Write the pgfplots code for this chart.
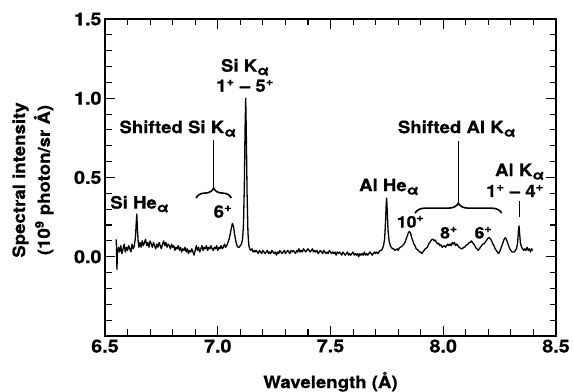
\documentclass[border=0pt]{standalone}
\usepackage{fontspec}
\setmainfont{TeX Gyre Heros}[FakeStretch=1.1, BoldFeatures={FakeBold=0.6}]
\usepackage{pgfplots}
\pgfplotsset{compat=1.18}
\usetikzlibrary{decorations.pathreplacing}
\newcommand{\al}{\raisebox{-0.4ex}{\fontsize{14}{14}\selectfont α}}
\newcommand{\ann}{\fontsize{17}{17}\selectfont\bfseries}
\newcommand{\sm}{\fontsize{16}{16}\selectfont\bfseries}
\begin{document}
\begin{tikzpicture}
\useasboundingbox (-105bp,-56bp) rectangle (468bp,336bp);
\begin{axis}[at={(0,0)}, anchor=south west, scale only axis,
  width=451bp, height=317bp,
  xmin=6.5, xmax=8.5, ymin=-0.5, ymax=1.5,
  xtick={6.5,7,7.5,8,8.5}, xticklabels={6.5,7.0,7.5,8.0,8.5},
  ytick={-0.5,0,0.5,1,1.5}, yticklabels={,0.0,0.5,1.0,1.5},
  minor x tick num=4, minor y tick num=4,
  tick align=inside, major tick length=10bp, minor tick length=6.5bp,
  axis line style={line width=1.3bp},
  every tick/.style={line width=1.1bp, black},
  tick label style={font=\fontsize{18}{18}\selectfont\bfseries},
  /pgf/number format/assume math mode=true,
  clip=false]
\addplot[black, line width=1.3bp, line join=round] table {
6.550 0.11
6.553 -0.08
6.555 0.02
6.560 0.06
6.565 0.03
6.570 0.07
6.575 0.02
6.580 0.05
6.585 0.08
6.590 0.03
6.595 0.06
6.600 0.04
6.605 0.07
6.610 0.05
6.615 0.03
6.620 0.08
6.625 0.05
6.630 0.07
6.635 0.12
6.638 0.20
6.641 0.27
6.644 0.17
6.647 0.10
6.650 0.06
6.655 0.09
6.660 0.06
6.665 0.10
6.670 0.07
6.675 0.09
6.680 0.11
6.685 0.07
6.690 0.09
6.695 0.06
6.700 0.10
6.705 0.08
6.710 0.06
6.715 0.09
6.720 0.07
6.725 0.05
6.730 0.08
6.735 0.06
6.740 0.09
6.745 0.07
6.750 0.05
6.755 0.08
6.760 0.10
6.765 0.07
6.770 0.09
6.775 0.06
6.780 0.08
6.785 0.07
6.790 0.05
6.795 0.08
6.800 0.06
6.805 0.07
6.810 0.04
6.815 0.06
6.820 0.05
6.825 0.07
6.830 0.04
6.835 0.06
6.840 0.03
6.845 0.05
6.850 0.04
6.855 0.06
6.860 0.03
6.865 0.05
6.870 0.02
6.875 0.04
6.880 0.03
6.885 0.05
6.890 0.03
6.895 0.01
6.900 0.04
6.905 0.07
6.910 0.04
6.915 0.06
6.920 0.03
6.925 0.05
6.930 0.07
6.935 0.04
6.940 0.06
6.945 0.05
6.950 0.07
6.955 0.04
6.960 0.06
6.965 0.05
6.970 0.07
6.975 0.05
6.980 0.04
6.985 0.06
6.990 0.05
6.995 0.07
7.000 0.04
7.005 0.06
7.010 0.05
7.015 0.07
7.020 0.05
7.025 0.06
7.030 0.08
7.035 0.06
7.040 0.07
7.045 0.09
7.050 0.11
7.055 0.14
7.060 0.18
7.065 0.21
7.070 0.19
7.075 0.14
7.080 0.10
7.085 0.07
7.090 0.06
7.095 0.06
7.100 0.07
7.105 0.08
7.110 0.11
7.114 0.20
7.118 0.45
7.121 0.80
7.124 1.00
7.127 0.75
7.130 0.40
7.134 0.15
7.138 0.07
7.142 0.05
7.147 0.04
7.152 0.05
7.157 0.03
7.162 0.04
7.165 0.03
7.170 0.04
7.175 0.03
7.180 0.02
7.185 0.04
7.190 0.03
7.195 0.02
7.200 0.04
7.205 0.03
7.210 0.02
7.215 0.03
7.220 0.04
7.225 0.02
7.230 0.03
7.235 0.02
7.240 0.04
7.245 0.03
7.250 0.02
7.255 0.03
7.260 0.01
7.265 0.03
7.270 0.02
7.275 0.04
7.280 0.03
7.285 0.02
7.290 0.03
7.295 0.04
7.300 0.02
7.305 0.03
7.310 0.04
7.315 0.03
7.320 0.02
7.325 0.04
7.330 0.03
7.335 0.04
7.340 0.03
7.345 0.02
7.350 0.04
7.355 0.03
7.360 0.05
7.365 0.03
7.370 0.04
7.375 0.03
7.380 0.05
7.385 0.04
7.390 0.03
7.395 0.04
7.400 0.05
7.405 0.04
7.410 0.03
7.415 0.04
7.420 0.05
7.425 0.03
7.430 0.04
7.435 0.03
7.440 0.04
7.445 0.02
7.450 0.03
7.455 0.04
7.460 0.03
7.465 0.02
7.470 0.04
7.475 0.03
7.480 0.02
7.485 0.03
7.490 0.02
7.495 0.04
7.500 0.03
7.505 0.02
7.510 0.03
7.515 0.02
7.520 0.03
7.525 0.01
7.530 0.03
7.535 0.02
7.540 0.03
7.545 0.02
7.550 0.01
7.555 0.03
7.560 0.02
7.565 0.01
7.570 0.02
7.575 0.03
7.580 0.01
7.585 0.02
7.590 0.01
7.595 0.02
7.600 0.03
7.605 0.01
7.610 0.02
7.615 0.01
7.620 0.02
7.625 0.00
7.630 0.02
7.635 0.01
7.640 0.02
7.645 0.01
7.650 0.03
7.655 0.01
7.660 0.02
7.665 0.01
7.670 0.02
7.675 0.03
7.680 0.02
7.685 0.01
7.690 0.02
7.695 0.03
7.700 0.02
7.705 0.03
7.710 0.02
7.715 0.03
7.720 0.04
7.725 0.04
7.730 0.05
7.735 0.07
7.740 0.11
7.744 0.22
7.747 0.33
7.749 0.37
7.752 0.28
7.755 0.17
7.760 0.10
7.765 0.07
7.770 0.06
7.775 0.05
7.780 0.05
7.785 0.04
7.790 0.045
7.795 0.05
7.800 0.04
7.805 0.055
7.810 0.06
7.815 0.065
7.820 0.07
7.825 0.08
7.830 0.09
7.835 0.11
7.840 0.13
7.845 0.15
7.850 0.16
7.855 0.15
7.860 0.12
7.865 0.10
7.870 0.08
7.875 0.07
7.880 0.05
7.885 0.045
7.890 0.04
7.895 0.03
7.900 0.03
7.905 0.02
7.910 0.03
7.915 0.04
7.920 0.05
7.925 0.055
7.930 0.06
7.935 0.08
7.940 0.09
7.945 0.10
7.950 0.11
7.955 0.11
7.960 0.10
7.965 0.105
7.970 0.09
7.975 0.08
7.980 0.085
7.985 0.07
7.990 0.075
7.995 0.06
8.000 0.065
8.005 0.07
8.010 0.06
8.015 0.07
8.020 0.08
8.025 0.07
8.030 0.08
8.035 0.07
8.040 0.09
8.045 0.08
8.050 0.09
8.055 0.07
8.060 0.08
8.065 0.07
8.070 0.06
8.075 0.055
8.080 0.05
8.085 0.05
8.090 0.06
8.095 0.06
8.100 0.07
8.105 0.075
8.110 0.08
8.115 0.09
8.120 0.09
8.125 0.10
8.130 0.09
8.135 0.08
8.140 0.07
8.145 0.055
8.150 0.05
8.155 0.04
8.160 0.05
8.165 0.06
8.170 0.07
8.175 0.08
8.180 0.08
8.185 0.09
8.190 0.10
8.195 0.11
8.200 0.12
8.205 0.12
8.210 0.11
8.215 0.10
8.220 0.08
8.225 0.07
8.230 0.05
8.235 0.04
8.240 0.03
8.245 0.02
8.250 0.03
8.255 0.05
8.260 0.07
8.265 0.09
8.270 0.11
8.275 0.12
8.280 0.11
8.285 0.09
8.290 0.07
8.295 0.05
8.300 0.04
8.305 0.03
8.310 0.03
8.315 0.03
8.320 0.04
8.325 0.05
8.330 0.09
8.333 0.16
8.336 0.195
8.339 0.14
8.342 0.09
8.347 0.06
8.352 0.05
8.357 0.04
8.362 0.05
8.367 0.04
8.372 0.06
8.377 0.04
8.382 0.05
8.387 0.03
8.392 0.05
8.397 0.04
};
% annotations
\node[anchor=base, font=\ann] at (axis cs:6.653,0.304) {Si He\al};
\node[anchor=base, font=\ann] at (axis cs:6.823,0.780) {Shifted Si K\al};
\node[anchor=base, font=\ann] at (axis cs:7.121,1.168) {Si K\al};
\node[anchor=base, font=\ann] at (axis cs:7.121,1.041) {1\textsuperscript{+} -- 5\textsuperscript{+}};
\node[anchor=base, font=\ann] at (axis cs:7.023,0.247) {6\textsuperscript{+}};
\node[anchor=base, font=\ann] at (axis cs:7.759,0.414) {Al He\al};
\node[anchor=base, font=\ann] at (axis cs:8.060,0.780) {Shifted Al K\al};
\node[anchor=base, font=\ann] at (axis cs:8.339,0.509) {Al K\al};
\node[anchor=base, font=\ann] at (axis cs:8.318,0.377) {1\textsuperscript{+} -- 4\textsuperscript{+}};
\node[anchor=base, font=\sm] at (axis cs:7.855,0.184) {10\textsuperscript{+}};
\node[anchor=base, font=\sm] at (axis cs:8.025,0.115) {8\textsuperscript{+}};
\node[anchor=base, font=\sm] at (axis cs:8.178,0.115) {6\textsuperscript{+}};
\draw[line width=1.6bp, decorate, decoration={brace, amplitude=10bp}] (axis cs:6.904,0.37) -- (axis cs:7.060,0.37);
\draw[line width=1.6bp, decorate, decoration={brace, amplitude=10bp}] (axis cs:7.875,0.275) -- (axis cs:8.259,0.275);
\draw[line width=1.1bp] (axis cs:6.982,0.44) -- (axis cs:6.982,0.738);
\draw[line width=1.1bp] (axis cs:8.067,0.345) -- (axis cs:8.067,0.728);
\draw[line width=1.1bp] (axis cs:8.337,0.25) -- (axis cs:8.337,0.35);
\end{axis}
\node[anchor=base, font=\fontsize{17}{17}\selectfont\bfseries] at (225.5bp,-52bp) {Wavelength (Å)};
\node[rotate=90, align=center, font=\fontsize{17}{25}\selectfont\bfseries] at (-72bp,156bp) {Spectral intensity\\(10\textsuperscript{9} photon/sr Å)};
\end{tikzpicture}
\end{document}
